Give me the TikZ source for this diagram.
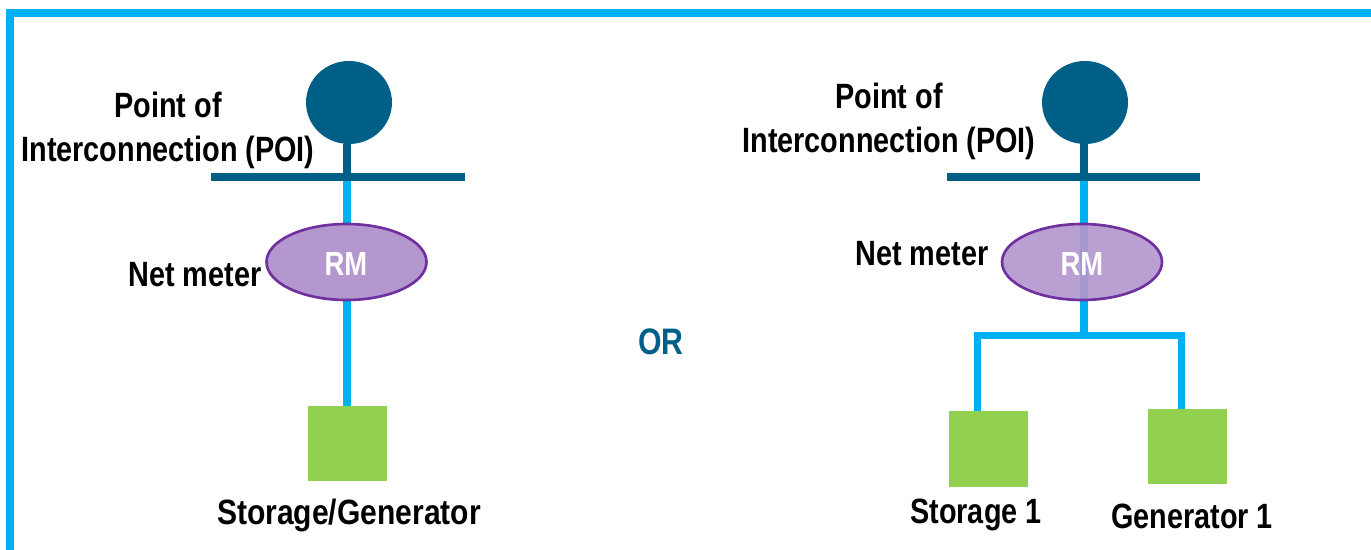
\documentclass[tikz,border=0pt]{standalone}
\usepackage{fontspec}
\setmainfont[FakeStretch=0.82]{Liberation Sans Bold}
\usetikzlibrary{shapes.geometric}
\definecolor{poiblue}{HTML}{005F87}
\definecolor{lineblue}{HTML}{00B0F0}
\definecolor{rmpurple}{HTML}{B497CF}
\definecolor{rmedge}{HTML}{7030A0}
\definecolor{gengreen}{HTML}{92D050}
\tikzset{
  poi/.style={ellipse, fill=poiblue, inner sep=0, minimum width=1.72cm, minimum height=1.66cm},
  rmnode/.style={ellipse, draw=rmedge, line width=1.5pt, fill=rmpurple, inner sep=0, minimum width=3.2cm, minimum height=1.52cm},
  gennode/.style={rectangle, fill=gengreen, inner sep=0, minimum width=1.58cm},
  txt/.style={align=center, inner sep=0, font=\fontsize{20}{25.5}\selectfont},
  rmtxt/.style={inner sep=0, text=white, font=\fontsize{19}{22}\selectfont},
  bus/.style={line width=8*0.02cm, poiblue},
  feed/.style={line width=7.5*0.02cm, lineblue}
}
\begin{document}
\begin{tikzpicture}[x=0.02cm, y=-0.02cm]
\useasboundingbox (0,0) rectangle (1371,550);
% outer frame
\coordinate (fa) at (10,550);
\coordinate (fb) at (10,13);
\coordinate (fc) at (1371,13);
\draw[feed, line width=8*0.02cm] (fa) -- (fb) -- (fc);
% left side
\coordinate (busa) at (211,177.5);
\coordinate (busb) at (465,177.5);
\coordinate (tap) at (347,177.5);
\node[gennode, minimum height=1.5cm] (gen) at (347.5,443.5){};
\node[poi] (poi) at (349,102.5){};
\draw[feed] (tap) -- (gen.north -| tap);
\draw[bus] (poi.south -| tap) -- (tap);
\draw[bus] (busa) -- (busb);
\node[rmnode] (rm) at (346.5,262){};
\node[rmtxt] (rmt) at (346,264){RM};
\node[txt] (poit) at (168,130.5){Point of\\Interconnection (POI)};
\node[txt] (nett) at (195,274.5){Net meter};
\node[txt] (gent) at (349,515){\addfontfeature{FakeStretch=0.855}Storage/Generator};
% middle
\node[txt, text=poiblue, font=\fontsize{21}{24}\selectfont] (ort) at (661,342){OR};
% right side
\coordinate (busc) at (947,177.5);
\coordinate (busd) at (1200,177.5);
\coordinate (tapr) at (1084,177.5);
\coordinate (jct) at (1084,335);
\coordinate (jl) at (977,335);
\coordinate (jr) at (1181,335);
\node[gennode, minimum height=1.52cm] (stor) at (988.5,449){};
\node[gennode, minimum height=1.5cm] (genr) at (1187.5,446.5){};
\node[poi] (poir) at (1085,102.5){};
\draw[feed] (tapr) -- (jct);
\draw[bus] (poir.south -| tapr) -- (tapr);
\draw[bus] (busc) -- (busd);
\draw[feed, line width=7*0.02cm] (stor.north -| jl) -- (jl) -- (jr) -- (genr.north -| jr);
\node[rmnode, fill opacity=0.92] (rmr) at (1082,262){};
\node[rmtxt] (rmrt) at (1082,264){RM};
\node[txt] (poirt) at (889,121.5){Point of\\Interconnection (POI)};
\node[txt] (netrt) at (922,253.5){Net meter};
\node[txt] (stort) at (976,515){Storage 1};
\node[txt] (genrt) at (1192,516){Generator 1};
\end{tikzpicture}
\end{document}
